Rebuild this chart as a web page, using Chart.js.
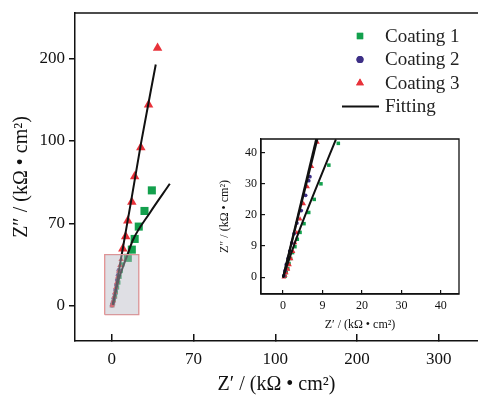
<!DOCTYPE html>
<html>
<head>
<meta charset="utf-8">
<script src="https://cdn.jsdelivr.net/npm/chart.js@4.4.1/dist/chart.umd.min.js"></script>
<style>
	body { margin: 0; background: #fff; }
	#wrap { position: relative; width: 478px; height: 398px; }
	#main { position: absolute; left: 0; top: 0; }
	#inset { position: absolute; left: 212px; top: 130px; }
</style>
</head>
<body>
<div id="wrap">
	<canvas id="main" width="478" height="398"></canvas>
	<canvas id="inset" width="258" height="205"></canvas>
</div>
<script>
// main plot: tick positions are evenly spaced, labels as printed on the figure
var mainXTicks = [0, 100, 200, 300, 400];
var mainXLabels = ['0', '70', '100', '200', '300'];
var mainYTicks = [0, 100, 200, 300];
var mainYLabels = ['0', '70', '100', '200'];

// inset plot
var insetTicks = [0, 10, 20, 30, 40];
var insetLabels = ['0', '9', '20', '30', '40'];

// main plot data (outside the zoom box)
var coating1X = [49, 40, 33, 28, 24.5, 19.6];
var coating1Y = [140, 115, 96, 81, 68, 58];
var coating3X = [56, 45, 35.5, 28, 24.5, 19.6, 17, 13.5];
var coating3Y = [313, 244, 192, 157, 126, 103, 84, 69];

// main plot data inside the zoom box
var coating1NearX = [13, 11, 9.5, 8, 6.5, 5, 4, 2.5, 1.5, 0.5];
var coating1NearY = [50, 42, 35, 28, 22, 16, 11, 7, 3, 0.5];
var coating2NearX = [8.5, 7.5, 6.5, 5.5, 4.5, 3.5, 2.5, 1.5, 0.3];
var coating2NearY = [43, 37, 31, 25, 19, 14, 9, 4, 0.5];
var coating3NearX = [11.5, 10, 8.5, 7.3, 6, 5, 4, 3, 2, 1, 0.3];
var coating3NearY = [56, 49, 42, 35, 28, 22, 16, 11, 6, 2.5, 0];

// fitting curves, main plot
var fit1X = [1, 8, 20, 26, 46.5, 71];
var fit1Y = [1, 30, 64, 80, 112.6, 148];
var fit3X = [1.6, 11.8, 24, 35.9, 53.8];
var fit3Y = [1, 60, 129, 198, 293];

// zoom box on main plot
var boxX = [-8.6, 33];
var boxY = [-11, 62];

// inset data
var inset1X = [14, 11.6, 9.6, 7.9, 6.5, 5.3, 4.3, 3.6, 3.0, 2.4, 1.9, 1.5, 1.2, 0.8, 0.5];
var inset1Y = [43, 36, 30, 25, 20.8, 17.2, 14.4, 12.2, 9.8, 7.9, 6, 4.4, 2.8, 1.5, 0.3];
var inset2X = [6.8, 6.5, 5.7, 4.6, 3.5, 2.8, 2.2, 1.7, 1.3, 0.8, 0.5, 0.2];
var inset2Y = [32.3, 31, 26.3, 21.4, 17.4, 14, 11, 8.4, 6.1, 4, 2.1, 0.5];
var inset3X = [8.7, 7.3, 6.2, 5.2, 4.3, 3.5, 3.0, 2.5, 2.0, 1.6, 1.2, 0.8, 0.5, 0.2];
var inset3Y = [43.3, 35.5, 29, 23.6, 18.7, 14.3, 11, 8.2, 5.9, 4, 2.5, 1.4, 0.5, 0];
var insetFit1X = [0, 2, 4.3, 8, 13.4];
var insetFit1Y = [0, 7.5, 15.6, 27.5, 44.3];
var insetFit2X = [0, 8.4];
var insetFit2Y = [0, 44.4];
var insetFit3X = [0, 8.7];
var insetFit3Y = [-0.2, 44.4];

var GREEN = '#13a04d';
var PURPLE = '#3d2f86';
var RED = '#e8323a';
var SERIF = '"Liberation Serif", "DejaVu Serif", serif';

function pts(xs, ys) {
	var out = [];
	for (var i = 0; i < xs.length; i++) {
		out.push({x: xs[i], y: ys[i]});
	}
	return out;
}

function markers(xs, ys, color, style, r) {
	return {
		data: pts(xs, ys), showLine: false, pointStyle: style,
		pointRadius: r, pointBackgroundColor: color, pointBorderWidth: 0
	};
}

function fitLine(xs, ys) {
	return {
		data: pts(xs, ys), showLine: true, borderColor: '#111', borderWidth: 2,
		pointRadius: 0, tension: 0.4, cubicInterpolationMode: 'monotone', fill: false
	};
}

function fixedTicks(values) {
	return function (scale) {
		scale.ticks = values.map(function (v) { return {value: v}; });
	};
}

// pin the axis box size and drop the label overflow padding
function pinX(h) {
	return function (s) { s.height = h; s.paddingLeft = 0; s.paddingRight = 0; };
}
function pinY(w) {
	return function (s) { s.width = w; s.paddingTop = 0; s.paddingBottom = 0; };
}

var frame = {
	id: 'frame',
	afterDraw: function (chart, args, opts) {
		var a = chart.chartArea;
		var ctx = chart.ctx;
		ctx.save();
		ctx.strokeStyle = '#111';
		ctx.lineWidth = opts.width;
		ctx.beginPath();
		if (opts.all) {
			ctx.rect(a.left, a.top, a.right - a.left, a.bottom - a.top);
		} else {
			ctx.moveTo(a.left, a.top);
			ctx.lineTo(a.right, a.top);
		}
		ctx.stroke();
		ctx.restore();
	}
};

var legendItems = [
	{text: 'Coating 1', color: GREEN, style: 'rect'},
	{text: 'Coating 2', color: PURPLE, style: 'circle'},
	{text: 'Coating 3', color: RED, style: 'triangle'},
	{text: 'Fitting', color: '#111', style: 'line'}
];

var drawnLegend = {
	id: 'drawnLegend',
	afterDraw: function (chart) {
		var ctx = chart.ctx;
		var x0 = chart.chartArea.right - 118;
		var y0 = 36;
		ctx.save();
		ctx.font = '19px ' + SERIF;
		ctx.textBaseline = 'middle';
		for (var i = 0; i < legendItems.length; i++) {
			var it = legendItems[i];
			var y = y0 + i * 23.5;
			ctx.fillStyle = it.color;
			ctx.strokeStyle = it.color;
			if (it.style === 'line') {
				ctx.lineWidth = 2;
				ctx.beginPath();
				ctx.moveTo(x0 - 18, y);
				ctx.lineTo(x0 + 19, y);
				ctx.stroke();
			} else {
				Chart.helpers.drawPoint(ctx, {pointStyle: it.style, radius: it.style === 'circle' ? 3.5 : 4.5, borderWidth: 0}, x0, y);
				ctx.fill();
			}
			ctx.fillStyle = '#222';
			ctx.fillText(it.text, x0 + 25, y + 1);
		}
		ctx.restore();
	}
};

Chart.defaults.font.family = SERIF;
Chart.defaults.color = '#111';

new Chart(document.getElementById('main'), {
	type: 'scatter',
	data: {
		datasets: [
			{
				data: [{x: boxX[0], y: boxY[1]}, {x: boxX[1], y: boxY[1]}],
				showLine: true, borderWidth: 0, pointRadius: 0,
				fill: {value: boxY[0]}, backgroundColor: 'rgba(185,185,195,0.45)', order: -2
			},
			{
				data: pts([boxX[0], boxX[1], boxX[1], boxX[0], boxX[0]], [boxY[0], boxY[0], boxY[1], boxY[1], boxY[0]]),
				showLine: true, borderColor: '#e58a8a', borderWidth: 1.3, pointRadius: 0, tension: 0, order: -1
			},
			fitLine(fit1X, fit1Y),
			fitLine(fit3X, fit3Y),
			markers(coating1X, coating1Y, GREEN, 'rect', 5.7),
			markers(coating3X, coating3Y, RED, 'triangle', 5.5),
			// earlier datasets end up on top, red first like the figure
			markers(coating3NearX, coating3NearY, RED, 'triangle', 3.2),
			markers(coating2NearX, coating2NearY, PURPLE, 'circle', 2.2),
			markers(coating1NearX, coating1NearY, GREEN, 'rect', 3)
		]
	},
	options: {
		responsive: false,
		animation: false,
		devicePixelRatio: 1,
		layout: {autoPadding: false, padding: {top: 13, right: 0, left: 0, bottom: 0}},
		plugins: {
			legend: {display: false},
			tooltip: {enabled: false},
			frame: {width: 1.5, all: false}
		},
		scales: {
			x: {
				type: 'linear', min: -45, max: 448,
				afterBuildTicks: fixedTicks(mainXTicks),
				afterFit: pinX(57),
				grid: {drawOnChartArea: false, tickLength: -7, color: '#111', lineWidth: 1.5},
				border: {color: '#111', width: 1.5},
				ticks: {padding: 15, font: {size: 17}, callback: function (v) { return mainXLabels[mainXTicks.indexOf(v)]; }},
				title: {display: true, text: 'Z\u2032 / (k\u03a9 \u2022 cm\u00b2)', font: {size: 20}, padding: {top: 0, bottom: 1}}
			},
			y: {
				type: 'linear', min: -43, max: 355.5,
				afterBuildTicks: fixedTicks(mainYTicks),
				afterFit: pinY(75),
				grid: {drawOnChartArea: false, tickLength: 6, color: '#111', lineWidth: 1.5},
				border: {color: '#111', width: 1.5},
				ticks: {padding: 4, font: {size: 17}, callback: function (v) { return mainYLabels[mainYTicks.indexOf(v)]; }},
				title: {display: true, text: 'Z\u2033 / (k\u03a9 \u2022 cm\u00b2)', font: {size: 20}, padding: {top: 10, bottom: 10}}
			}
		}
	},
	plugins: [frame, drawnLegend]
});

new Chart(document.getElementById('inset'), {
	type: 'scatter',
	data: {
		datasets: [
			fitLine(insetFit1X, insetFit1Y),
			fitLine(insetFit2X, insetFit2Y),
			fitLine(insetFit3X, insetFit3Y),
			markers(inset2X, inset2Y, PURPLE, 'circle', 1.9),
			markers(inset3X, inset3Y, RED, 'triangle', 2.8),
			markers(inset1X, inset1Y, GREEN, 'rect', 2.5)
		]
	},
	options: {
		responsive: false,
		animation: false,
		devicePixelRatio: 1,
		layout: {autoPadding: false, padding: {top: 9, right: 11, left: 0, bottom: 0}},
		plugins: {
			legend: {display: false},
			tooltip: {enabled: false},
			frame: {width: 1.3, all: true}
		},
		elements: {line: {borderWidth: 1.4}},
		scales: {
			x: {
				type: 'linear', min: -5.6, max: 44.6,
				afterBuildTicks: fixedTicks(insetTicks),
				afterFit: pinX(41),
				grid: {drawOnChartArea: false, tickLength: -4, color: '#111', lineWidth: 1.2},
				border: {color: '#111', width: 1.3},
				ticks: {padding: 9, font: {size: 12}, callback: function (v) { return insetLabels[insetTicks.indexOf(v)]; }},
				title: {display: true, text: 'Z\u2032 / (k\u03a9 \u2022 cm\u00b2)', font: {size: 12}, padding: {top: 0, bottom: 3}}
			},
			y: {
				type: 'linear', min: -5.4, max: 44.4,
				afterBuildTicks: fixedTicks(insetTicks),
				afterFit: pinY(49),
				grid: {drawOnChartArea: false, tickLength: -4, color: '#111', lineWidth: 1.2},
				border: {color: '#111', width: 1.3},
				ticks: {padding: 8, font: {size: 12}, callback: function (v) { return insetLabels[insetTicks.indexOf(v)]; }},
				title: {display: true, text: 'Z\u2033 / (k\u03a9 \u2022 cm\u00b2)', font: {size: 12}, padding: {top: 6, bottom: 6}}
			}
		}
	},
	plugins: [frame]
});
</script>
</body>
</html>
